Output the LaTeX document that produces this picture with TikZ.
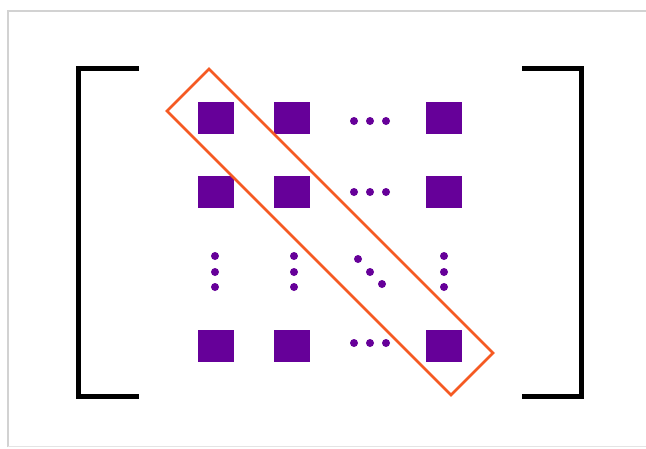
\documentclass[tikz,border=0pt]{standalone}
\definecolor{mpurple}{RGB}{102,0,153}
\definecolor{morange}{RGB}{245,90,35}
\definecolor{mframe}{RGB}{210,210,210}
\begin{document}
\begin{tikzpicture}[x=1pt,y=-1pt,
  sq/.style={fill=mpurple,draw=none,minimum width=36pt,minimum height=32pt,inner sep=0pt},
  dotc/.style={fill=mpurple},
  brk/.style={line width=5pt,black},
  band/.style={draw=morange,line width=2.6pt,line join=miter}]
\useasboundingbox (0,0) rectangle (646,448);
\fill[white] (0,0) rectangle (646,448);
\draw[mframe,line width=1.2pt] (8,447) -- (8,11) -- (646,11);
\draw[mframe!60,line width=1pt] (8,446.5) -- (646,446.5);
% brackets
\draw[brk] (139,68) -- (78,68) -- (78,396) -- (139,396);
\draw[brk] (522,68) -- (581,68) -- (581,396) -- (522,396);
% squares
\node[sq] (a11) at (216,118) {};
\node[sq] (a12) at (292,118) {};
\node[sq] (a14) at (444,118) {};
\node[sq] (a21) at (216,192) {};
\node[sq] (a22) at (292,192) {};
\node[sq] (a24) at (444,192) {};
\node[sq] (a41) at (216,346) {};
\node[sq] (a42) at (292,346) {};
\node[sq] (a44) at (444,346) {};
% dots
\foreach \y in {121,192,343}{
  \foreach \x in {354,370,386}{\fill[dotc] (\x,\y) circle (4pt);}
}
\foreach \x in {215,294,444}{
  \foreach \y in {256,272,287}{\fill[dotc] (\x,\y) circle (4pt);}
}
\fill[dotc] (358,259) circle (4pt);
\fill[dotc] (370,272) circle (4pt);
\fill[dotc] (382,284) circle (4pt);
% diagonal band
\coordinate (bt) at (209,69);
\coordinate (bl) at (167,111);
\coordinate (bb) at (451,395);
\coordinate (br) at (493,353);
\draw[band] (bt) -- (bl) -- (bb) -- (br) -- cycle;
\end{tikzpicture}
\end{document}
